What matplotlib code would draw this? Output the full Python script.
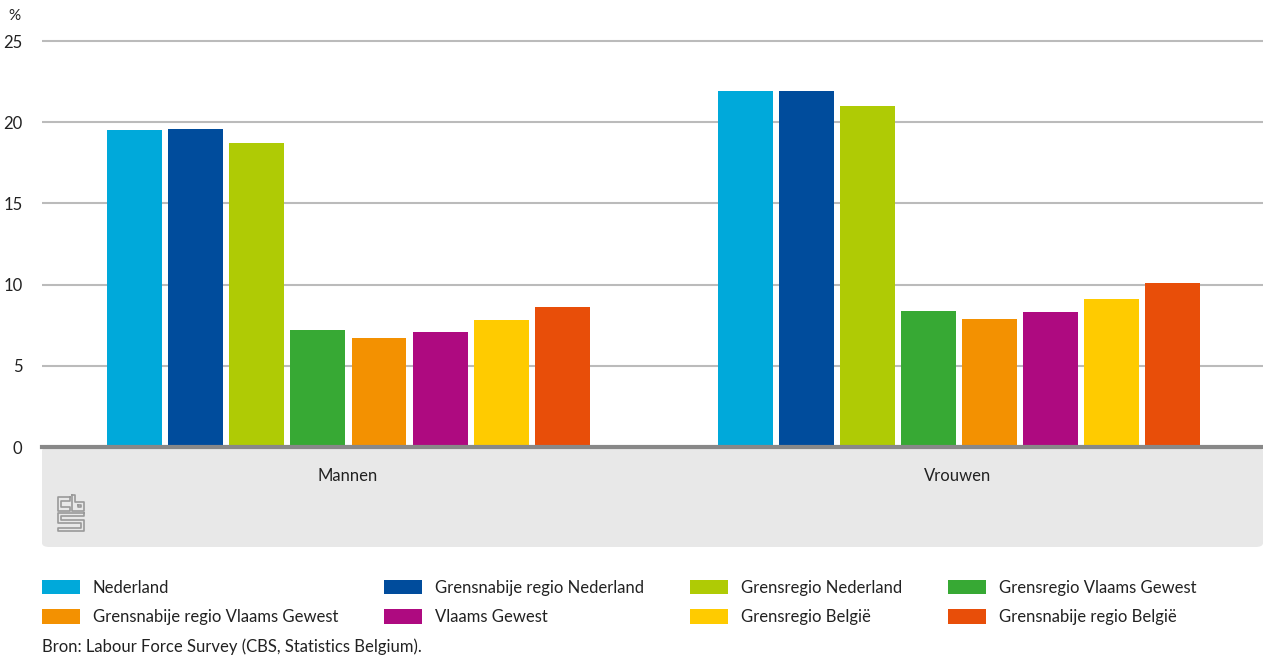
import numpy as np
import matplotlib
matplotlib.use("Agg")
import matplotlib.pyplot as plt
from matplotlib.patches import FancyBboxPatch, Patch

plt.rcParams['font.family'] = ['Lato', 'DejaVu Sans']

# data
groups = ['Mannen', 'Vrouwen']
series = ['Nederland', 'Grensnabije regio Nederland', 'Grensregio Nederland',
          'Grensregio Vlaams Gewest', 'Grensnabije regio Vlaams Gewest',
          'Vlaams Gewest', 'Grensregio België', 'Grensnabije regio België']
mannen = [19.5, 19.6, 18.7, 7.2, 6.7, 7.1, 7.8, 8.6]
vrouwen = [21.9, 21.9, 21.0, 8.4, 7.9, 8.3, 9.1, 10.1]
colors = ['#00a9da', '#004c9c', '#afcb05', '#37a934', '#f39101',
          '#ae0a80', '#ffcb00', '#e84e09']
yticks = [0, 5, 10, 15, 20, 25]

W, H = 1263, 655
fig = plt.figure(figsize=(W / 100, H / 100), dpi=100)

# grey category band under the axis
band = FancyBboxPatch((42 / W, 108 / H), 1221 / W, 100 / H,
                      boxstyle='round,pad=0,rounding_size=0.006',
                      transform=fig.transFigure, facecolor='#e8e8e8',
                      edgecolor='none', zorder=-1)
fig.patches.append(band)

ax = fig.add_axes([42 / W, 208 / H, 1221 / W, 414 / H])
ax.set_facecolor('none')

vals = np.array([mannen, vrouwen])
x = np.arange(len(groups))
step = 0.1
for i, (name, col) in enumerate(zip(series, colors)):
    off = (i - 3.5) * step
    ax.bar(x + off + 0.002, vals[:, i], width=0.09, color=col, label=name, zorder=3)

ax.set_xlim(-0.5, 1.5)
ax.set_ylim(0, 25.5)
ax.set_yticks(yticks)
ax.set_yticklabels([str(t) for t in yticks], fontsize=12, color='#222222')
ax.set_xticks(x)
ax.set_xticklabels(groups, fontsize=12, color='#222222')
ax.tick_params(axis='y', length=0, pad=14)
ax.tick_params(axis='x', length=0, pad=15)
ax.grid(axis='y', color='#bbbbbb', linewidth=1.5, zorder=1)
for s in ['top', 'right', 'left']:
    ax.spines[s].set_visible(False)
ax.spines['bottom'].set_color('#888888')
ax.spines['bottom'].set_linewidth(3)
ax.spines['bottom'].set_zorder(4)

fig.text(8 / W, 1 - 16 / H, '%', fontsize=11, color='#222222', va='center', ha='left')

# cbs logo sketch
lax = fig.add_axes([57 / W, 123 / H, 28 / W, 38 / H])
lax.set_xlim(-1, 27)
lax.set_ylim(33, -1)
lax.axis('off')
lc = '#999999'
paths = [
    [(12, 2), (0, 2), (0, 14), (12, 14), (12, 11), (3, 11), (3, 5), (12, 5), (12, 2)],
    [(14, 0), (17, 0), (17, 6), (26, 6), (26, 14), (14, 14), (14, 0)],
    [(20, 9), (23, 9), (23, 11), (20, 11), (20, 9)],
    [(26, 16), (0, 16), (0, 25), (23, 25), (23, 29), (0, 29), (0, 32), (26, 32),
     (26, 22), (3, 22), (3, 19), (26, 19), (26, 16)],
]
for p in paths:
    px, py = zip(*p)
    lax.plot(px, py, color=lc, linewidth=1.2)

# legend, row-major order in the reference
order = [0, 4, 1, 5, 2, 6, 3, 7]
handles = [Patch(facecolor=colors[i], edgecolor='none') for i in order]
labels = [series[i] for i in order]
fig.legend(handles, labels, ncol=4, loc='upper left',
           bbox_to_anchor=(42 / W, 1 - 580 / H), frameon=False,
           fontsize=12, handlelength=2.28, handleheight=0.95,
           handletextpad=0.78, columnspacing=2.75, labelspacing=0.8,
           borderaxespad=0, borderpad=0, labelcolor='#222222')

fig.text(42 / W, 1 - 647 / H, 'Bron: Labour Force Survey (CBS, Statistics Belgium).',
         fontsize=12, color='#222222', va='center', ha='left')

fig.savefig('out.png', dpi=100)
